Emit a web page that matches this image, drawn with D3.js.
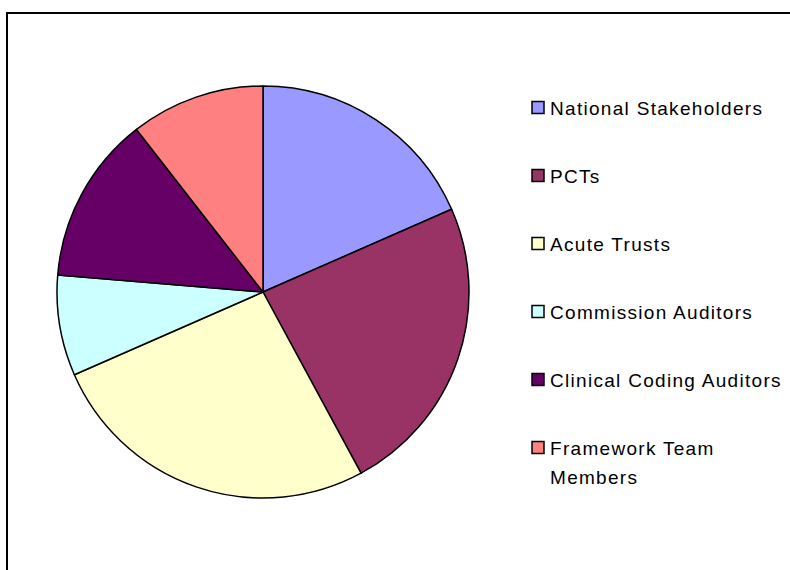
<!DOCTYPE html>
<html>
<head>
<meta charset="utf-8">
<script src="https://cdn.jsdelivr.net/npm/d3@7"></script>
<style>
  html, body { margin: 0; padding: 0; background: #fff; overflow: hidden; }
  svg { display: block; }
</style>
</head>
<body>
<svg id="chart" width="790" height="570"></svg>
<script>
// Respondent groups and their counts
const categories = [
  "National Stakeholders",
  "PCTs",
  "Acute Trusts",
  "Commission Auditors",
  "Clinical Coding Auditors",
  "Framework Team Members"
];
const values = [7, 9, 10, 3, 5, 4];
const colors = ["#9999FF", "#993366", "#FFFFCC", "#CCFFFF", "#660066", "#FF8080"];
// Legend text lines (long names wrap)
const legendLines = [
  ["National Stakeholders"],
  ["PCTs"],
  ["Acute Trusts"],
  ["Commission Auditors"],
  ["Clinical Coding Auditors"],
  ["Framework Team", "Members"]
];

const svg = d3.select("#chart");

// Chart area border (runs past the right and bottom edges)
svg.append("rect")
  .attr("x", 7).attr("y", 13)
  .attr("width", 820).attr("height", 600)
  .attr("fill", "#fff")
  .attr("stroke", "#000")
  .attr("stroke-width", 2);

const cx = 263, cy = 292, radius = 206;

const data = categories.map((c, i) => ({ name: c, value: values[i] }));

const pie = d3.pie()
  .value(d => d.value)
  .sort(null)
  .startAngle(0)
  .endAngle(2 * Math.PI);

const arc = d3.arc().innerRadius(0).outerRadius(radius);

const color = d3.scaleOrdinal().domain(categories).range(colors);

svg.append("g")
  .attr("transform", `translate(${cx},${cy})`)
  .selectAll("path")
  .data(pie(data))
  .join("path")
  .attr("d", arc)
  .attr("fill", d => color(d.data.name))
  .attr("stroke", "#000")
  .attr("stroke-width", 1.5)
  .attr("stroke-linejoin", "round");

// Legend
const legendX = 532, legendY0 = 107.5, rowGap = 68, lineGap = 29;
const legend = svg.append("g")
  .style("font-family", "'Liberation Sans', Arial, sans-serif")
  .style("font-size", "19px")
  .style("letter-spacing", "1.3px");

categories.forEach((c, i) => {
  const y = legendY0 + i * rowGap;
  legend.append("rect")
    .attr("x", legendX).attr("y", y - 6)
    .attr("width", 12).attr("height", 12)
    .attr("fill", color(c))
    .attr("stroke", "#000")
    .attr("stroke-width", 1.5);
  legendLines[i].forEach((line, j) => {
    legend.append("text")
      .attr("x", 550)
      .attr("y", y + 7 + j * lineGap)
      .attr("fill", "#000")
      .text(line);
  });
});
</script>
</body>
</html>
